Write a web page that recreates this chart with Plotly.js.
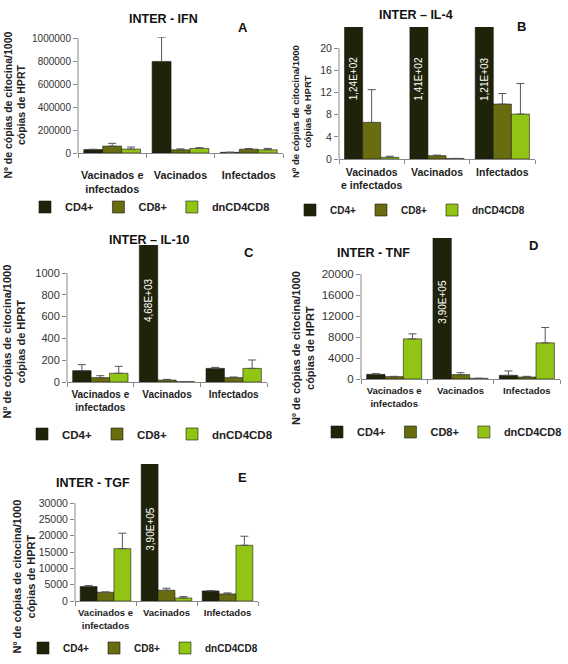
<!DOCTYPE html>
<html><head><meta charset="utf-8">
<script src="https://cdn.plot.ly/plotly-3.0.1.min.js"></script>
<style>html,body{margin:0;padding:0;background:#fff}#chart{width:568px;height:664px}</style>
</head><body><div id="chart"></div>
<script>
// ---------- data ----------
const categories  = ['Vacinados e<br>infectados', 'Vacinados', 'Infectados'];
const categoriesB = ['Vacinados<br>e infectados', 'Vacinados', 'Infectados'];
const seriesNames = ['CD4+', 'CD8+', 'dnCD4CD8'];

// A - IFN
const ifnCD4 = [30000, 797000, 6000];   const ifnCD4Err = [3000, 212000, 0];
const ifnCD8 = [60000, 28000, 33000];   const ifnCD8Err = [24000, 8000, 6000];
const ifnDn  = [34000, 40000, 28000];   const ifnDnErr  = [18000, 6000, 12000];
const ifnTicks = [0, 200000, 400000, 600000, 800000, 1000000];

// B - IL-4
const il4CD4 = [124, 141, 1210];        const il4CD4Err = [0, 0, 0];
const il4CD8 = [6.6, 0.6, 9.9];         const il4CD8Err = [5.9, 0.1, 1.9];
const il4Dn  = [0.3, 0.1, 8.1];         const il4DnErr  = [0.2, 0, 5.5];
const il4Ticks = [0, 4, 8, 12, 16, 20];

// C - IL-10
const il10CD4 = [104, 4680, 125];       const il10CD4Err = [55, 0, 9];
const il10CD8 = [40, 18, 40];           const il10CD8Err = [18, 6, 6];
const il10Dn  = [80, 3, 125];           const il10DnErr  = [64, 0, 77];
const il10Ticks = [0, 200, 400, 600, 800, 1000];

// D - TNF
const tnfCD4 = [890, 390000, 700];      const tnfCD4Err = [130, 0, 830];
const tnfCD8 = [450, 830, 380];         const tnfCD8Err = [60, 380, 130];
const tnfDn  = [7640, 130, 6880];       const tnfDnErr  = [960, 0, 2920];
const tnfTicks = [0, 4000, 8000, 12000, 16000, 20000];

// E - TGF
const tgfCD4 = [4420, 390000, 3080];    const tgfCD4Err = [310, 0, 110];
const tgfCD8 = [2670, 3290, 2160];      const tgfCD8Err = [100, 610, 310];
const tgfDn  = [16030, 925, 17060];     const tgfDnErr  = [4730, 415, 2770];
const tgfTicks = [0, 5000, 10000, 15000, 20000, 25000, 30000];

const panelTitles = ['INTER - IFN', 'INTER \u2013 IL-4', 'INTER \u2013 IL-10', 'INTER - TNF', 'INTER - TGF'];
const panelLetters = ['A', 'B', 'C', 'D', 'E'];
const yTitle = 'N\u00ba de c\u00f3pias de citocina/1000<br>c\u00f3pias de HPRT';

// ---------- styling / layout ----------
const W = 568, H = 664;
const px = x => x / W;
const py = y => 1 - y / H;
const FONT = 'Liberation Sans, Arial, sans-serif';
const colors = ['#1f230a', '#6a6c10', '#92c416'];
const BARGAP = 0.17;

const panels = [
  {cats: categories,  vals: [ifnCD4, ifnCD8, ifnDn],    errs: [ifnCD4Err, ifnCD8Err, ifnDnErr],    ticks: ifnTicks,
   xd: [78, 283], yd: [153, 37], top: 1010000, tickSize: 10, catSize: 10.8, standoff: 12,
   title: [163, 19], letter: [243, 28], ytl: [14.5, 105, 10.5], leg: [25, 207, 11], txt: 0.79},
  {cats: categoriesB, vals: [il4CD4, il4CD8, il4Dn],    errs: [il4CD4Err, il4CD8Err, il4DnErr],    ticks: il4Ticks,
   xd: [339, 535], yd: [159, 27], top: 23.8, tickSize: 10.5, catSize: 10.5, standoff: 3,
   title: [416, 15], letter: [521, 26], ytl: [302, 112, 9.5], leg: [290, 210, 10], txt: 0.79},
  {cats: categories,  vals: [il10CD4, il10CD8, il10Dn], errs: [il10CD4Err, il10CD8Err, il10DnErr], ticks: il10Ticks,
   xd: [67, 267], yd: [382, 245], top: 1257, tickSize: 11, catSize: 10, standoff: 3,
   title: [149, 240], letter: [249, 252], ytl: [13.5, 342, 11], leg: [22, 434, 11.5], txt: 0.77},
  {cats: categories,  vals: [tnfCD4, tnfCD8, tnfDn],    errs: [tnfCD4Err, tnfCD8Err, tnfDnErr],    ticks: tnfTicks,
   xd: [361, 560], yd: [379, 238], top: 26860, tickSize: 11.5, catSize: 9.5, standoff: 3,
   title: [373, 253], letter: [533, 246], ytl: [303, 348, 11], leg: [317, 432, 11], txt: 0.72},
  {cats: categories,  vals: [tgfCD4, tgfCD8, tgfDn],    errs: [tgfCD4Err, tgfCD8Err, tgfDnErr],    ticks: tgfTicks,
   xd: [75, 258], yd: [601, 464], top: 41940, tickSize: 10.5, catSize: 9.5, standoff: 3,
   title: [93, 483], letter: [242, 477], ytl: [23.5, 577, 11], leg: [23, 648, 10], txt: 0.70}
];

function sci(v) {
  const [m, e] = v.toExponential(2).split('e');
  const ex = parseInt(e, 10);
  return m.replace('.', ',') + 'E' + (ex >= 0 ? '+' : '-') + String(Math.abs(ex)).padStart(2, '0');
}

const traces = [];
const layout = {
  width: W, height: H, margin: {l: 0, r: 0, t: 0, b: 0},
  paper_bgcolor: '#fff', plot_bgcolor: 'rgba(0,0,0,0)',
  font: {family: FONT, color: '#222'},
  barmode: 'group', bargap: BARGAP, bargroupgap: 0,
  showlegend: true, annotations: [], shapes: []
};

panels.forEach((p, pi) => {
  const ax = pi === 0 ? '' : String(pi + 1);
  seriesNames.forEach((s, si) => {
    traces.push({
      type: 'bar', x: p.cats, y: p.vals[si], name: s,
      xaxis: 'x' + ax, yaxis: 'y' + ax, legend: 'legend' + ax,
      marker: {color: colors[si], line: {color: '#1a1a1a', width: 0.6}},
      error_y: {type: 'data', symmetric: false, array: p.errs[si], arrayminus: p.errs[si].map(() => 0),
                color: '#555', thickness: 1, width: 4},
      hoverinfo: 'none'
    });
  });
  layout['xaxis' + ax] = {
    domain: [px(p.xd[0]), px(p.xd[1])], anchor: 'y' + ax, type: 'category',
    showline: true, linecolor: '#888', linewidth: 1, showgrid: false, zeroline: false,
    ticks: 'outside', tickson: 'boundaries', ticklen: 4, tickcolor: '#888', tickangle: 0,
    tickfont: {size: p.catSize, family: FONT, color: '#222', weight: 'bold'},
    ticklabelstandoff: p.standoff, fixedrange: true
  };
  layout['yaxis' + ax] = {
    domain: [py(p.yd[0]), py(p.yd[1])], anchor: 'x' + ax, range: [0, p.top],
    showline: false, showgrid: false, zeroline: false,
    tickmode: 'array', tickvals: p.ticks, ticktext: p.ticks.map(String),
    ticks: 'outside', ticklen: 4, tickcolor: '#888',
    tickfont: {size: p.tickSize, family: FONT, color: '#333'}, fixedrange: true
  };
  layout['legend' + ax] = {
    orientation: 'h', x: px(p.leg[0]), y: py(p.leg[1]), xanchor: 'left', yanchor: 'middle',
    font: {size: p.leg[2], family: FONT, color: '#222', weight: 'bold'},
    bgcolor: 'rgba(0,0,0,0)', borderwidth: 0
  };
  layout.shapes.push({type: 'line', xref: 'x' + ax + ' domain', x0: 0, x1: 0, yref: 'y' + ax,
    y0: 0, y1: p.ticks[p.ticks.length - 1], line: {color: '#888', width: 1}});
  layout.annotations.push({text: '<b>' + panelTitles[pi] + '</b>', xref: 'paper', yref: 'paper',
    x: px(p.title[0]), y: py(p.title[1]), xanchor: 'center', yanchor: 'middle', showarrow: false,
    font: {size: 12.5, family: FONT, color: '#111'}});
  layout.annotations.push({text: '<b>' + panelLetters[pi] + '</b>', xref: 'paper', yref: 'paper',
    x: px(p.letter[0]), y: py(p.letter[1]), xanchor: 'center', yanchor: 'middle', showarrow: false,
    font: {size: 13, family: FONT, color: '#111'}});
  layout.annotations.push({text: '<b>' + yTitle + '</b>', xref: 'paper', yref: 'paper', textangle: -90,
    x: px(p.ytl[0]), y: py(p.ytl[1]), xanchor: 'center', yanchor: 'middle', showarrow: false,
    font: {size: p.ytl[2], family: FONT, color: '#222'}});
  // labels on CD4+ bars that run past the axis
  p.vals[0].forEach((v, ci) => {
    if (v > p.top) {
      layout.annotations.push({text: sci(v), xref: 'x' + ax, x: ci - (1 - BARGAP) / 3,
        yref: 'y' + ax + ' domain', y: p.txt, yanchor: 'top', xanchor: 'center', textangle: -90,
        showarrow: false, font: {size: 10, family: FONT, color: '#fff'}});
    }
  });
});

Plotly.newPlot('chart', traces, layout, {staticPlot: true, displayModeBar: false});
</script>
</body></html>
